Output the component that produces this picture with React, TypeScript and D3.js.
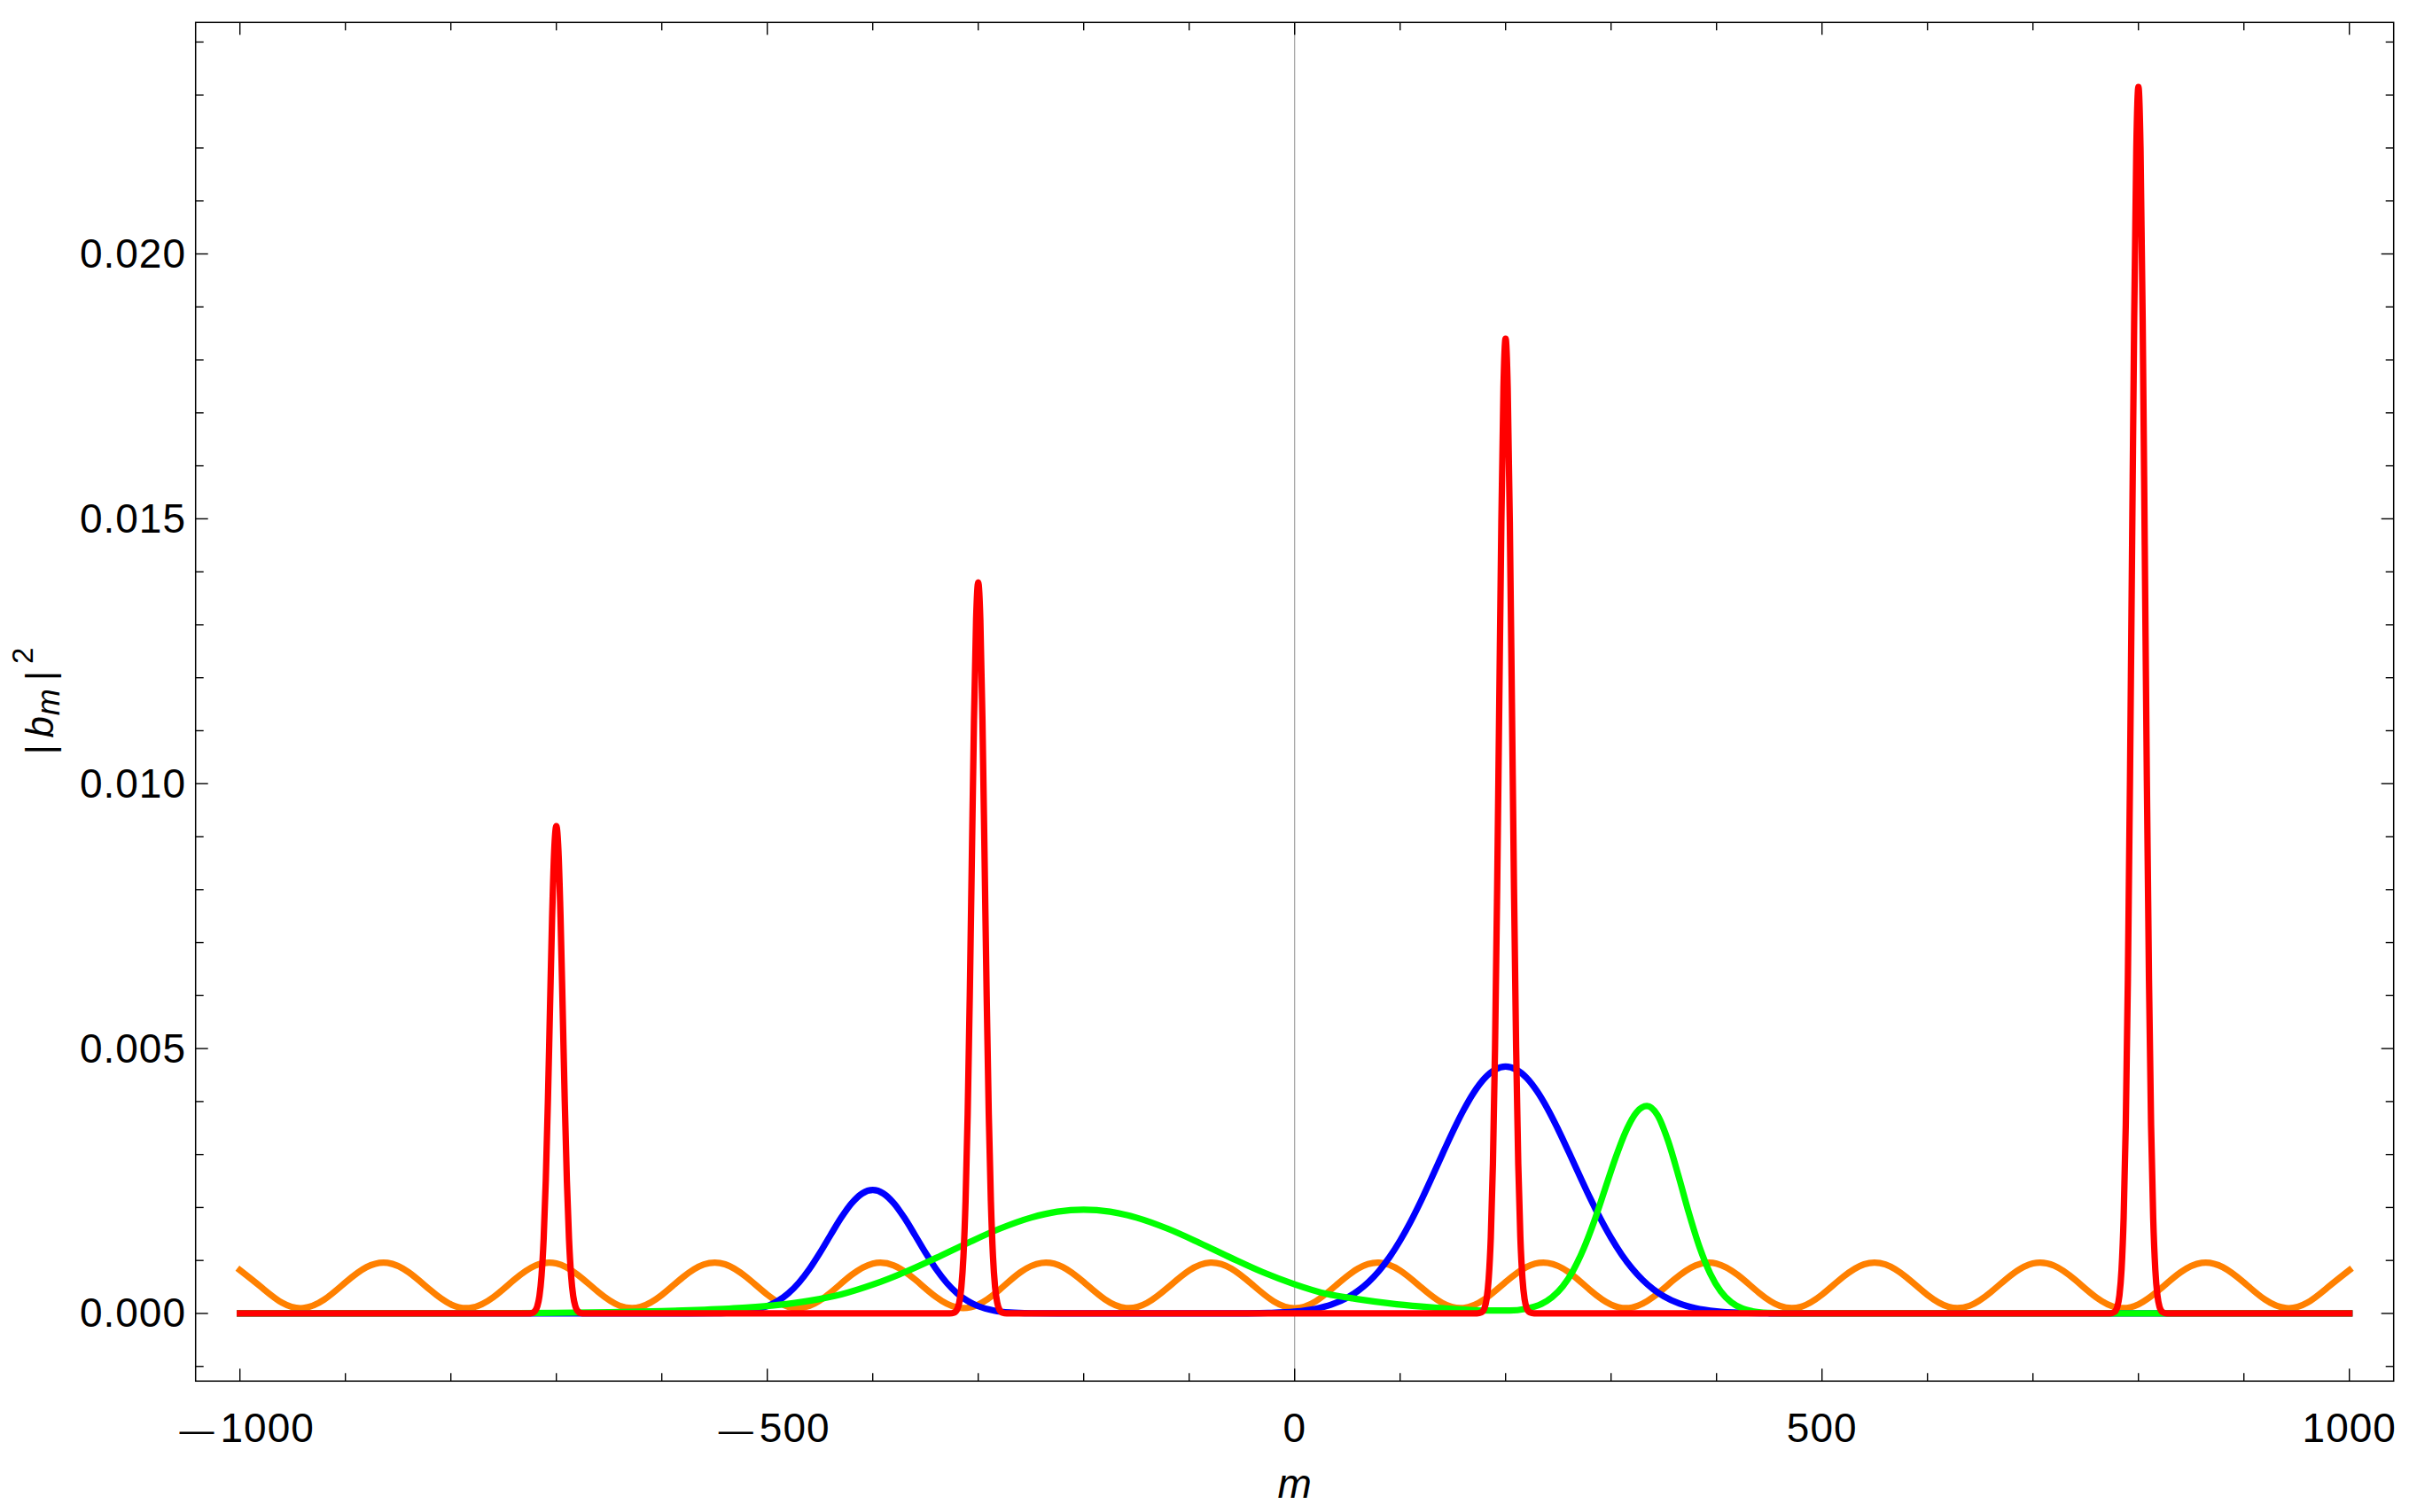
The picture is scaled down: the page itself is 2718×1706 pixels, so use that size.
import React from "react";
import * as d3 from "d3";

// ---------- data (values of |b_m|^2 given in units of 1e-3) ----------
const xMajorTicks = [-1000, -500, 0, 500, 1000];
const xTickLabels = ["\u22121000", "\u2212500", "0", "500", "1000"];
const yMajorTicks = [0, 0.005, 0.01, 0.015, 0.02];
const yTickLabels = ["0.000", "0.005", "0.010", "0.015", "0.020"];

const orangeSeries: [number, number][] = [
  [-1000, 0.817], [-980, 0.5], [-960, 0.201], [-940, 0.102], [-920, 0.262], [-900, 0.585],
  [-880, 0.874], [-860, 0.955], [-840, 0.777], [-820, 0.45], [-800, 0.171], [-780, 0.11],
  [-760, 0.303], [-740, 0.634], [-720, 0.902], [-700, 0.944], [-680, 0.735], [-660, 0.401],
  [-640, 0.146], [-620, 0.124], [-600, 0.348], [-580, 0.683], [-560, 0.925], [-540, 0.928],
  [-520, 0.689], [-500, 0.355], [-480, 0.126], [-460, 0.143], [-440, 0.394], [-420, 0.728],
  [-400, 0.942], [-380, 0.906], [-360, 0.642], [-340, 0.31], [-320, 0.112], [-300, 0.167],
  [-280, 0.443], [-260, 0.777], [-240, 0.953], [-220, 0.879], [-200, 0.593], [-180, 0.268],
  [-160, 0.103], [-140, 0.197], [-120, 0.492], [-100, 0.811], [-80, 0.959], [-60, 0.847],
  [-40, 0.543], [-20, 0.23], [0, 0.1], [20, 0.23], [40, 0.543], [60, 0.847], [80, 0.959],
  [100, 0.811], [120, 0.492], [140, 0.197], [160, 0.103], [180, 0.268], [200, 0.593],
  [220, 0.879], [240, 0.953], [260, 0.777], [280, 0.443], [300, 0.167], [320, 0.112],
  [340, 0.31], [360, 0.642], [380, 0.906], [400, 0.942], [420, 0.728], [440, 0.394],
  [460, 0.143], [480, 0.126], [500, 0.355], [520, 0.689], [540, 0.928], [560, 0.925],
  [580, 0.683], [600, 0.348], [620, 0.124], [640, 0.146], [660, 0.401], [680, 0.735],
  [700, 0.944], [720, 0.902], [740, 0.634], [760, 0.303], [780, 0.11], [800, 0.171],
  [820, 0.45], [840, 0.777], [860, 0.955], [880, 0.874], [900, 0.585], [920, 0.262],
  [940, 0.102], [960, 0.201], [980, 0.5], [1000, 0.817],
];

const blueSeries: [number, number][] = [
  [-1000, 0], [-575, 0], [-550, 0.004], [-530, 0.019], [-515, 0.055], [-500, 0.137],
  [-490, 0.235], [-480, 0.38], [-470, 0.581], [-460, 0.84], [-450, 1.147], [-440, 1.48],
  [-430, 1.805], [-420, 2.08], [-410, 2.265], [-400, 2.33], [-390, 2.265], [-380, 2.08],
  [-370, 1.805], [-360, 1.48], [-350, 1.147], [-340, 0.84], [-330, 0.581], [-320, 0.38],
  [-310, 0.235], [-300, 0.137], [-285, 0.055], [-270, 0.019], [-250, 0.004], [-225, 0],
  [-60, 0], [-50, 0.002], [-25, 0.01], [0, 0.035], [20, 0.089], [35, 0.168], [50, 0.299],
  [60, 0.426], [70, 0.592], [80, 0.803], [90, 1.064], [100, 1.375], [110, 1.733],
  [120, 2.133], [130, 2.562], [140, 3.003], [150, 3.434], [160, 3.833], [170, 4.175],
  [180, 4.438], [190, 4.603], [200, 4.66], [210, 4.605], [220, 4.445], [230, 4.189],
  [240, 3.856], [250, 3.466], [260, 3.043], [270, 2.61], [280, 2.185], [290, 1.787],
  [300, 1.427], [310, 1.113], [320, 0.848], [330, 0.631], [340, 0.458], [350, 0.325],
  [365, 0.186], [380, 0.101], [400, 0.041], [425, 0.012], [450, 0.003], [480, 0], [1000, 0],
];

const greenSeries: [number, number][] = [
  [-1000, 0], [-850, 0.001], [-760, 0.005], [-700, 0.012], [-650, 0.025], [-600, 0.045],
  [-560, 0.07], [-520, 0.11], [-490, 0.16], [-460, 0.24], [-430, 0.36], [-400, 0.545],
  [-370, 0.777], [-340, 1.047], [-310, 1.331], [-280, 1.597], [-250, 1.809], [-225, 1.921],
  [-200, 1.96], [-175, 1.921], [-150, 1.809], [-120, 1.597], [-90, 1.331], [-60, 1.047],
  [-30, 0.777], [0, 0.55], [30, 0.37], [60, 0.27], [90, 0.19], [120, 0.13], [150, 0.085],
  [180, 0.055], [204, 0.055], [219, 0.088], [234, 0.18], [244, 0.305], [254, 0.505],
  [264, 0.808], [274, 1.222], [284, 1.739], [294, 2.331], [304, 2.923], [314, 3.438],
  [324, 3.794], [334, 3.915], [344, 3.743], [354, 3.261], [364, 2.593], [374, 1.881],
  [384, 1.245], [394, 0.753], [404, 0.415], [414, 0.21], [424, 0.097], [434, 0.042],
  [449, 0.011], [464, 0.003], [500, 0.001], [1000, 0],
];

const redSeries: [number, number][] = [
  [-1000, 0],
  [-727, 0], [-723, 0.009], [-720, 0.051], [-718, 0.136], [-716, 0.329], [-714, 0.719],
  [-712, 1.414], [-710, 2.506], [-708, 4.002], [-706, 5.76], [-704, 7.471], [-702, 8.734],
  [-700, 9.2], [-698, 8.734], [-696, 7.471], [-694, 5.76], [-692, 4.002], [-690, 2.506],
  [-688, 1.414], [-686, 0.719], [-684, 0.329], [-682, 0.136], [-680, 0.051], [-677, 0.009],
  [-673, 0],
  [-327, 0], [-323, 0.014], [-320, 0.076], [-318, 0.204], [-316, 0.494], [-314, 1.079],
  [-312, 2.121], [-310, 3.759], [-308, 6.003], [-306, 8.64], [-304, 11.207], [-302, 13.1],
  [-300, 13.8], [-298, 13.1], [-296, 11.207], [-294, 8.64], [-292, 6.003], [-290, 3.759],
  [-288, 2.121], [-286, 1.079], [-284, 0.494], [-282, 0.204], [-280, 0.076], [-277, 0.014],
  [-273, 0],
  [173, 0], [177, 0.019], [180, 0.101], [182, 0.272], [184, 0.659], [186, 1.439],
  [188, 2.828], [190, 5.012], [192, 8.004], [194, 11.52], [196, 14.943], [198, 17.467],
  [200, 18.4], [202, 17.467], [204, 14.943], [206, 11.52], [208, 8.004], [210, 5.012],
  [212, 2.828], [214, 1.439], [216, 0.659], [218, 0.272], [220, 0.101], [223, 0.019],
  [227, 0],
  [773, 0], [777, 0.024], [780, 0.127], [782, 0.342], [784, 0.829], [786, 1.81],
  [788, 3.558], [790, 6.306], [792, 10.07], [794, 14.494], [796, 18.8], [798, 21.976],
  [800, 23.15], [802, 21.976], [804, 18.8], [806, 14.494], [808, 10.07], [810, 6.306],
  [812, 3.558], [814, 1.81], [816, 0.829], [818, 0.342], [820, 0.127], [823, 0.024],
  [827, 0],
  [1000, 0],
];

const seriesList = [
  { name: "orange", data: orangeSeries, color: "#ff8000", natural: true },
  { name: "blue", data: blueSeries, color: "#0000ff", natural: false },
  { name: "green", data: greenSeries, color: "#00ff00", natural: false },
  { name: "red", data: redSeries, color: "#ff0000", natural: false },
];

// ---------- layout ----------
const W = 2718;
const H = 1706;
const FL = 220.7;
const FR = 2700.7;
const FT = 25.3;
const FB = 1558.3;
const FONT = "'Liberation Sans', Arial, Helvetica, sans-serif";

export default function App() {
  const x = d3.scaleLinear().domain([-1042, 1042]).range([FL, FR]);
  const y = d3.scaleLinear().domain([-0.001277, 0.02437]).range([FB, FT]);

  const xMinor = d3.range(-1000, 1001, 100).filter((v) => !xMajorTicks.includes(v));
  const yMinor = d3
    .range(-1, 25, 1)
    .map((k) => k / 1000)
    .filter((v) => !yMajorTicks.some((t) => Math.abs(t - v) < 1e-9));

  const mk = (natural: boolean) =>
    d3
      .line<[number, number]>()
      .x((d) => x(d[0]))
      .y((d) => y(d[1] / 1000))
      .curve(natural ? d3.curveNatural : d3.curveMonotoneX);

  const MAJ = 14;
  const MIN = 9;
  const tickStroke = { stroke: "#000", strokeWidth: 1.4 };

  return (
    <svg
      width={W}
      height={H}
      viewBox={`0 0 ${W} ${H}`}
      style={{ position: "absolute", left: 0, top: 0, background: "#fff" }}
    >
      <rect x={0} y={0} width={W} height={H} fill="#fff" />
      {/* vertical axis at m = 0 */}
      <line x1={x(0)} x2={x(0)} y1={FT} y2={FB} stroke="#a0a0a0" strokeWidth={1.2} />

      {/* curves */}
      {seriesList.map((s) => (
        <path
          key={s.name}
          d={mk(s.natural)(s.data) || ""}
          fill="none"
          stroke={s.color}
          strokeWidth={7.2}
          strokeLinejoin="round"
          strokeLinecap="square"
        />
      ))}

      {/* frame */}
      <rect x={FL} y={FT} width={FR - FL} height={FB - FT} fill="none" stroke="#000" strokeWidth={1.5} />

      {/* x ticks */}
      {xMajorTicks.map((t) => (
        <g key={"xM" + t}>
          <line x1={x(t)} x2={x(t)} y1={FB} y2={FB - MAJ} {...tickStroke} />
          <line x1={x(t)} x2={x(t)} y1={FT} y2={FT + MAJ} {...tickStroke} />
        </g>
      ))}
      {xMinor.map((t) => (
        <g key={"xm" + t}>
          <line x1={x(t)} x2={x(t)} y1={FB} y2={FB - MIN} {...tickStroke} />
          <line x1={x(t)} x2={x(t)} y1={FT} y2={FT + MIN} {...tickStroke} />
        </g>
      ))}
      {/* y ticks */}
      {yMajorTicks.map((t) => (
        <g key={"yM" + t}>
          <line x1={FL} x2={FL + MAJ} y1={y(t)} y2={y(t)} {...tickStroke} />
          <line x1={FR} x2={FR - MAJ} y1={y(t)} y2={y(t)} {...tickStroke} />
        </g>
      ))}
      {yMinor.map((t) => (
        <g key={"ym" + t}>
          <line x1={FL} x2={FL + MIN} y1={y(t)} y2={y(t)} {...tickStroke} />
          <line x1={FR} x2={FR - MIN} y1={y(t)} y2={y(t)} {...tickStroke} />
        </g>
      ))}

      {/* x tick labels */}
      {xMajorTicks.map((t, i) => {
        const lab = xTickLabels[i];
        const neg = lab.startsWith("\u2212");
        return (
          <text
            key={"xl" + t}
            x={x(t) + (neg ? 8 : 0)}
            y={1626.7}
            textAnchor="middle"
            fontFamily={FONT}
            fontSize={46}
            letterSpacing={1}
            fill="#000"
          >
            {neg ? (
              <>
                <tspan fontSize={39}>{"\u2014"}</tspan>
                <tspan dx={6}>{lab.slice(1)}</tspan>
              </>
            ) : (
              lab
            )}
          </text>
        );
      })}

      {/* y tick labels */}
      {yMajorTicks.map((t, i) => (
        <text
          key={"yl" + t}
          x={210}
          y={y(t) + 15.5}
          textAnchor="end"
          fontFamily={FONT}
          fontSize={46}
          letterSpacing={1}
          fill="#000"
        >
          {yTickLabels[i]}
        </text>
      ))}

      {/* x axis label */}
      <text
        x={x(0)}
        y={1690}
        textAnchor="middle"
        fontFamily={FONT}
        fontSize={46}
        fontStyle="italic"
        fill="#000"
      >
        m
      </text>

      {/* y axis label |b_m|^2 */}
      <g transform={`translate(60, ${(FT + FB) / 2}) rotate(-90)`} fontFamily={FONT} fill="#000">
        <text x={-54} y={0} textAnchor="middle" fontSize={44}>|</text>
        <text x={-28.5} y={0} textAnchor="middle" fontSize={44} fontStyle="italic">b</text>
        <text x={-0.5} y={7} textAnchor="middle" fontSize={36} fontStyle="italic">m</text>
        <text x={29.3} y={0} textAnchor="middle" fontSize={44}>|</text>
        <text x={52} y={-23.3} textAnchor="middle" fontSize={33}>2</text>
      </g>
    </svg>
  );
}
